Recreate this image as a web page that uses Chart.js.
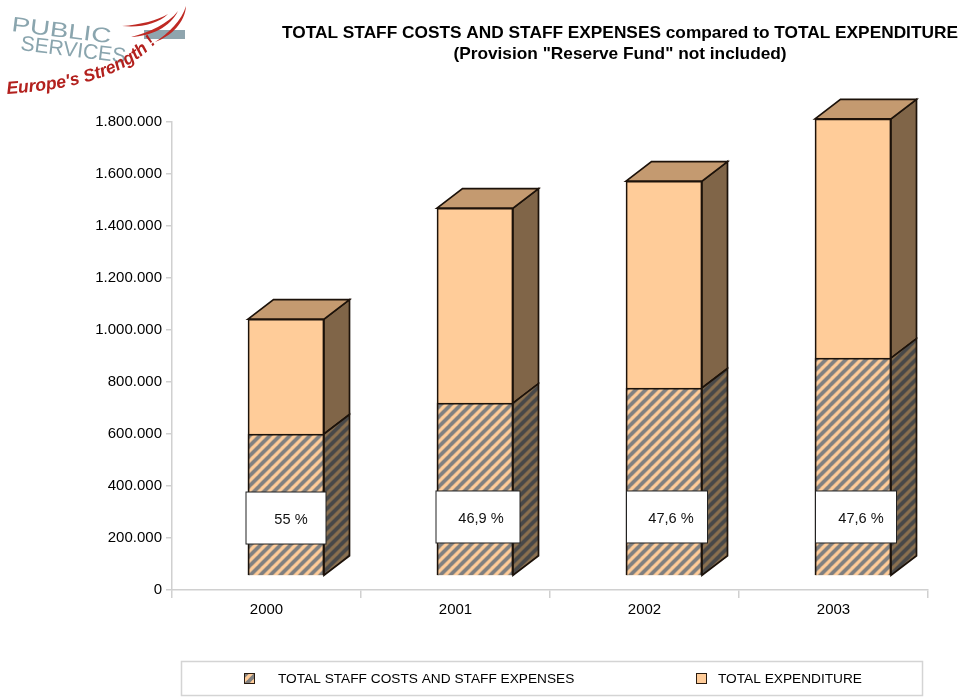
<!DOCTYPE html>
<html>
<head>
<meta charset="utf-8">
<title>Total staff costs</title>
<script src="https://cdn.jsdelivr.net/npm/chart.js@4"></script>
<style>
    html, body { margin: 0; padding: 0; background: #fff; }
    #wrap { position: relative; width: 960px; height: 698px; overflow: hidden; }
    #logo { position: absolute; left: 0; top: 0; }
</style>
</head>
<body>
<div id="wrap">
    <canvas id="grafico" width="960" height="698"></canvas>
    <svg id="logo" width="195" height="100" viewBox="0 0 195 100">
        <defs><path id="curva" d="M7 94 C 60 90, 125 82, 160 38"/></defs>
        <rect x="144" y="30" width="41" height="9" fill="#8fa5ae"/>
        <g font-family="Liberation Sans" fill="#8aa5ae">
            <text x="11" y="31" font-size="21" textLength="100" lengthAdjust="spacingAndGlyphs" transform="rotate(7 11 31)">PUBLIC</text>
            <text x="20" y="50" font-size="21" textLength="106" lengthAdjust="spacingAndGlyphs" transform="rotate(7 20 50)">SERVICES</text>
        </g>
        <g fill="#bf2a24">
            <path d="M122 26 C 140 25, 158 20, 168 14 C 158 24, 140 28, 122 26 Z"/>
            <path d="M131 37 C 150 32, 168 24, 178 11 C 170 27, 152 36, 131 37 Z"/>
            <path d="M155 42 C 168 34, 182 20, 186 6 C 185 22, 172 36, 155 42 Z"/>
        </g>
        <text font-family="Liberation Sans" font-size="17.5" font-weight="bold" font-style="italic" fill="#b3211e">
            <textPath href="#curva">Europe's Strength !</textPath>
        </text>
    </svg>
</div>
<script>
const categorias = ['2000', '2001', '2002', '2003'];
const nomeStaff = 'TOTAL STAFF COSTS AND STAFF EXPENSES';
const nomeTotal = 'TOTAL EXPENDITURE';
const valoresStaff = [546000, 665000, 723000, 838000];
const valoresTotal = [988000, 1415000, 1519000, 1758000];
const percentuais = ['55 %', '46,9 %', '47,6 %', '47,6 %'];
const titulo1 = 'TOTAL STAFF COSTS AND STAFF EXPENSES compared to TOTAL EXPENDITURE';
const titulo2 = '(Provision "Reserve Fund" not included)';

const FONTE = '"Liberation Sans", Arial, sans-serif';
// deslocamento do efeito 3D
const PROF_X = 25.5, PROF_Y = 19.5;
const DESLOC_X = 19.5, DESLOC_Y = -14;
const CONTORNO = '#1c120a';

// listras diagonais
function listras(cor1, cor2) {
    const t = 10;
    const c = document.createElement('canvas');
    c.width = t; c.height = t;
    const g = c.getContext('2d');
    g.fillStyle = cor1;
    g.fillRect(0, 0, t, t);
    g.strokeStyle = cor2;
    g.lineWidth = 3.8;
    for (let i = -t; i <= t; i += t) {
        g.beginPath();
        g.moveTo(i - 1, t + 1);
        g.lineTo(i + t + 1, -1);
        g.stroke();
    }
    return document.createElement('canvas').getContext('2d').createPattern(c, 'repeat');
}

const listraFrente = listras('#ffcc99', '#808080');
const listraLado = listras('#8a7050', '#484848');

function poligono(ctx, pts, fundo) {
    ctx.beginPath();
    pts.forEach((p, i) => i ? ctx.lineTo(p[0], p[1]) : ctx.moveTo(p[0], p[1]));
    ctx.closePath();
    ctx.fillStyle = fundo;
    ctx.fill();
    ctx.strokeStyle = CONTORNO;
    ctx.lineWidth = 1.7;
    ctx.stroke();
}

const barras3d = {
    id: 'barras3d',
    beforeDatasetsDraw(chart) {
        chart.ctx.save();
        chart.ctx.translate(DESLOC_X, DESLOC_Y);
    },
    afterDatasetsDraw(chart) {
        const ctx = chart.ctx;
        const staff = chart.getDatasetMeta(0).data;
        const total = chart.getDatasetMeta(1).data;
        total.forEach((barra, i) => {
            const esq = barra.x - barra.width / 2;
            const dir = barra.x + barra.width / 2;
            const meio = staff[i].y;
            const base = barra.base;
            poligono(ctx, [[dir, barra.y], [dir + PROF_X, barra.y - PROF_Y], [dir + PROF_X, meio - PROF_Y], [dir, meio]], '#806548');
            poligono(ctx, [[dir, meio], [dir + PROF_X, meio - PROF_Y], [dir + PROF_X, base - PROF_Y], [dir, base]], listraLado);
            poligono(ctx, [[esq, barra.y], [esq + PROF_X, barra.y - PROF_Y], [dir + PROF_X, barra.y - PROF_Y], [dir, barra.y]], '#c49a70');
        });
        // caixas com percentual
        ctx.textAlign = 'center';
        ctx.textBaseline = 'middle';
        ctx.font = '14.6px ' + FONTE;
        const eixo = chart.scales.y;
        staff.forEach((barra, i) => {
            const cx = barra.x + (i === 0 ? 0 : 3);
            const larg = i === 1 ? 84 : (i === 0 ? 80 : 81);
            const topo = eixo.getPixelForValue(i === 0 ? 323000 : 327000);
            ctx.fillStyle = '#fff';
            ctx.strokeStyle = '#222';
            ctx.lineWidth = 1;
            ctx.fillRect(cx - larg / 2, topo, larg, 52);
            ctx.strokeRect(cx - larg / 2, topo, larg, 52);
            ctx.fillStyle = '#111';
            ctx.fillText(percentuais[i], cx + (i === 0 ? 5 : 2 + i), topo + 28);
        });
        ctx.restore();
    },
    afterDraw(chart) {
        const ctx = chart.ctx;
        ctx.save();
        // titulo
        ctx.fillStyle = '#000';
        ctx.textAlign = 'center';
        ctx.textBaseline = 'middle';
        ctx.font = 'bold 17.3px ' + FONTE;
        ctx.fillText(titulo1, 620, 33);
        ctx.fillText(titulo2, 620, 54);
        // legenda
        ctx.strokeStyle = '#d4d4d4';
        ctx.lineWidth = 1.5;
        ctx.strokeRect(181.5, 661.5, 741, 34);
        ctx.textAlign = 'left';
        ctx.font = '13.7px ' + FONTE;
        ctx.fillStyle = listraFrente;
        ctx.fillRect(244, 673, 10, 11);
        ctx.fillStyle = '#ffcc99';
        ctx.fillRect(696, 673, 10, 11);
        ctx.strokeStyle = '#2a1c10';
        ctx.lineWidth = 1;
        ctx.strokeRect(244.5, 673.5, 10, 10);
        ctx.strokeRect(696.5, 673.5, 10, 10);
        ctx.fillStyle = '#000';
        ctx.fillText(nomeStaff, 278, 679);
        ctx.fillText(nomeTotal, 718, 679);
        ctx.restore();
    }
};

new Chart(document.getElementById('grafico'), {
    type: 'bar',
    data: {
        labels: categorias,
        datasets: [
            { label: nomeStaff, data: valoresStaff, order: 0, backgroundColor: listraFrente },
            { label: nomeTotal, data: valoresTotal, order: 1, backgroundColor: '#ffcc99' }
        ]
    },
    options: {
        responsive: false,
        animation: false,
        layout: { padding: { top: 122, right: 32, bottom: 78, left: 0 } },
        datasets: {
            bar: { grouped: false, barThickness: 76, borderWidth: 1.7, borderColor: CONTORNO, clip: false }
        },
        plugins: {
            legend: { display: false },
            title: { display: false },
            tooltip: { enabled: false }
        },
        scales: {
            x: {
                afterFit(s) { s.height = 30; },
                border: { color: '#d0d0d0', width: 1.5 },
                grid: { drawOnChartArea: false, color: '#d0d0d0', tickLength: 8, lineWidth: 1.5 },
                ticks: { color: '#000', padding: 3, maxRotation: 0, font: { family: FONTE, size: 15 } }
            },
            y: {
                min: 0,
                max: 1800000,
                afterFit(s) { s.width = 172; },
                border: { color: '#d0d0d0', width: 1.5 },
                grid: { drawOnChartArea: false, color: '#d0d0d0', tickLength: 6, lineWidth: 1.5 },
                ticks: {
                    stepSize: 200000,
                    color: '#000',
                    padding: 4,
                    font: { family: FONTE, size: 15 },
                    callback: v => String(v).replace(/\B(?=(\d{3})+$)/g, '.')
                }
            }
        }
    },
    plugins: [barras3d]
});
</script>
</body>
</html>
